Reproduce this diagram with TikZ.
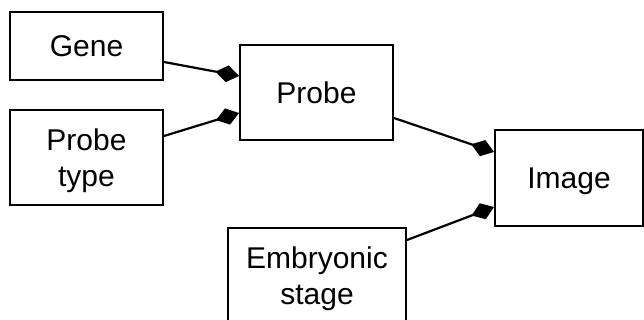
\documentclass[tikz,border=0pt]{standalone}
\usepackage{fontspec}
\setmainfont{Liberation Sans}
\usepackage{tikz}
\usetikzlibrary{arrows.meta}
\usetikzlibrary{positioning}
\tikzstyle{entity}=[rectangle, draw=black, line width=1pt, fill=white, align=center, inner sep=2pt, minimum height=47.5pt, minimum width=76.5pt, font=\fontsize{15}{18}\selectfont]
\tikzstyle{link}=[-{Diamond[length=12pt,width=8.5pt,fill=black]}, line width=1.1pt, black]

\begin{document}
\begin{tikzpicture}[x=0.5pt, y=-0.5pt]
	\useasboundingbox (0,0) rectangle (644,320);
	\clip (0,0) rectangle (644,320);
	% the boxes
	\node (gene) at (86.5,46) [entity, minimum height=34pt] {Gene};
	\node (probetype) at (86.5,157.5) [entity, text depth=0pt] {Probe\\type};
	\node (probe) at (316.5,92.5) [entity] {Probe};
	\node (image) at (569,178) [entity, minimum width=74pt, minimum height=48pt, text depth=0pt] {Image};
	\node (stage) at (317,275.5) [entity, minimum width=89pt, text depth=0pt] {Embryonic\\stage};
	% links ending in diamonds
	\path[link]
		([yshift=-8pt]gene.east) edge ([yshift=8.25pt]probe.west)
		([yshift=10.75pt]probetype.east) edge ([yshift=-10.25pt]probe.west)
		([yshift=-12.75pt]probe.east) edge ([yshift=13pt]image.west)
		([yshift=17.75pt]stage.east) edge ([yshift=-14.5pt]image.west);
\end{tikzpicture}
\end{document}
